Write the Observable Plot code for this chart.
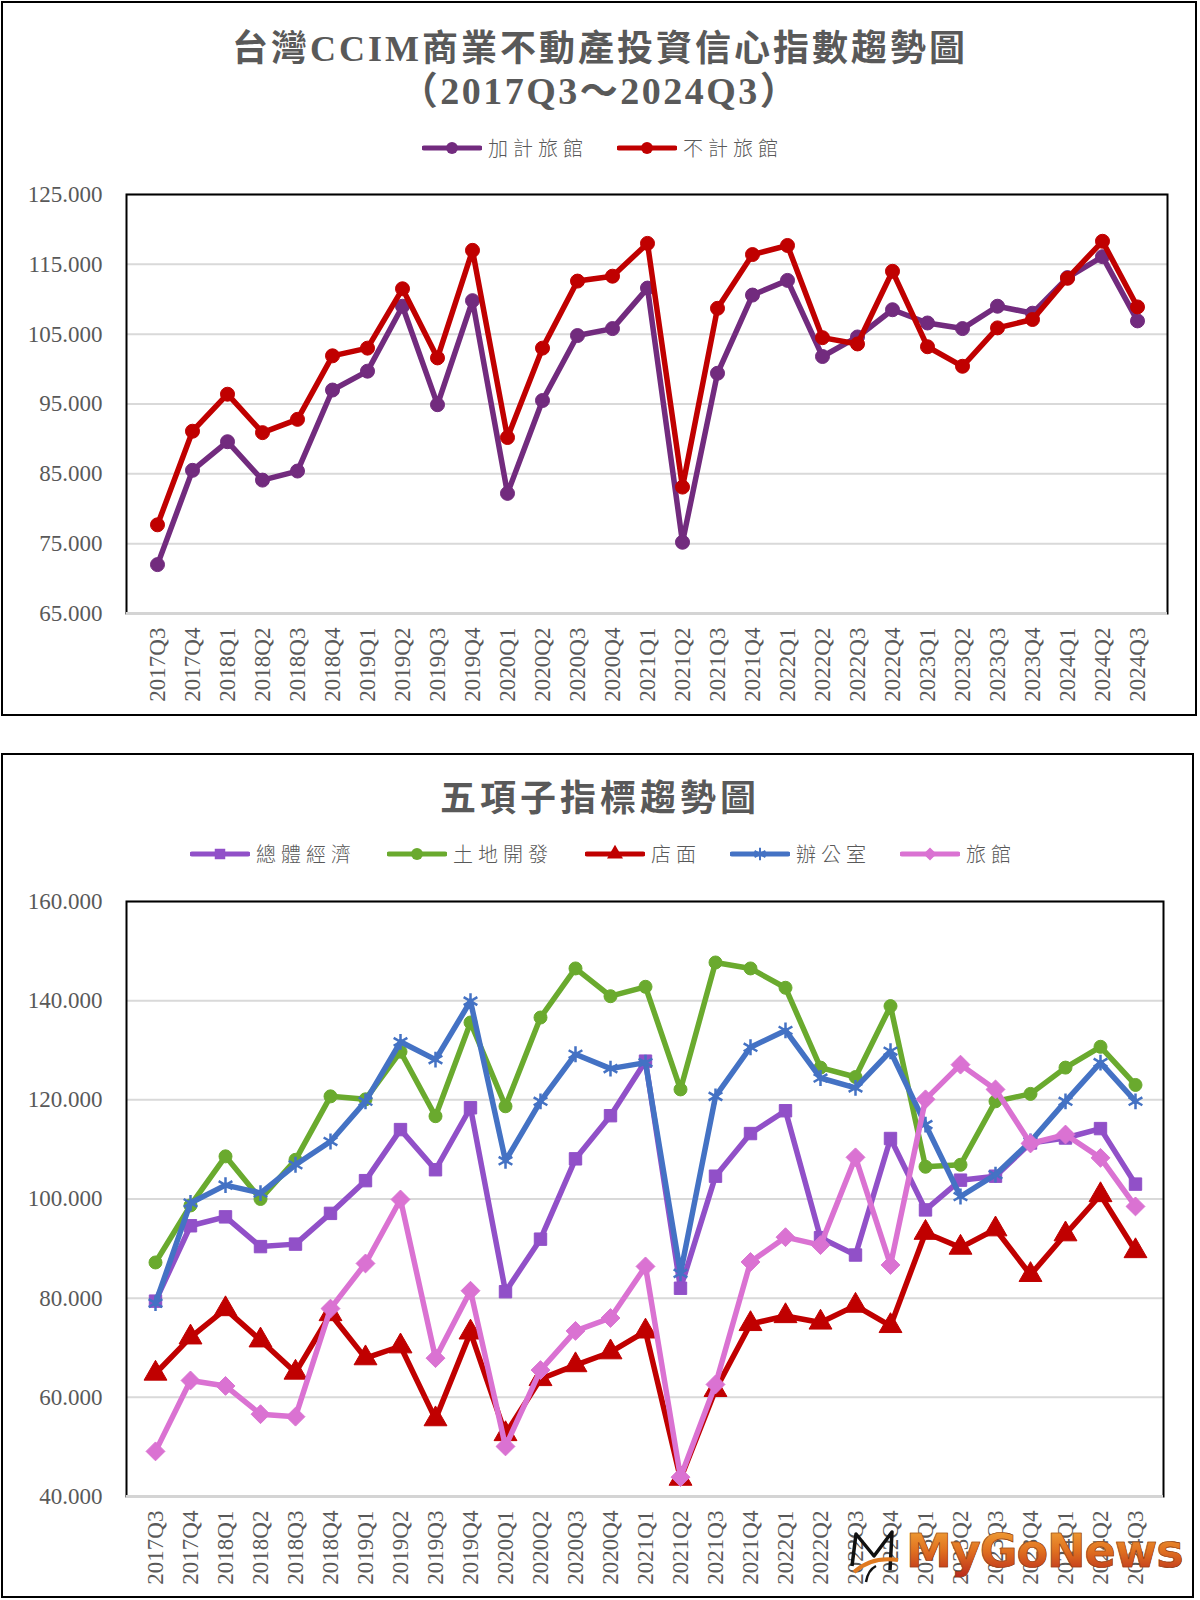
<!DOCTYPE html>
<html>
<head>
<meta charset="utf-8">
<script src="https://cdn.jsdelivr.net/npm/d3@7"></script>
<script src="https://cdn.jsdelivr.net/npm/@observablehq/plot@0.6"></script>
<style>
  html, body { margin: 0; padding: 0; background: #fff; }
  body { position: relative; width: 1200px; height: 1600px; overflow: hidden; }
  .box { position: absolute; border: 2px solid #000; box-sizing: border-box; }
  .title { position: absolute; left: 0; width: 1200px; text-align: center; color: #595959;
           font-family: "Liberation Serif", "Noto Sans CJK TC", serif; font-weight: bold; white-space: nowrap; }
  .leg { position: absolute; display: flex; align-items: center; color: #595959;
         font-family: "Noto Sans CJK TC", sans-serif; font-weight: 300; font-size: 20px; letter-spacing: 5px; white-space: nowrap; }
  .leg svg { margin-right: 6px; }
  .chart { position: absolute; left: 0; }
  .wm { position: absolute; left: 906px; top: 1524px; font-family: "DejaVu Sans", sans-serif; font-weight: bold;
        font-size: 46px; letter-spacing: -1px;
        background: linear-gradient(#f3a93a, #e07020 50%, #b8281c); -webkit-background-clip: text; background-clip: text;
        color: transparent; -webkit-text-stroke: 0.6px #8a3a10; }
  .wmicon { position: absolute; left: 846px; top: 1526px; }
</style>
</head>
<body>
<div class="box" style="left:1px; top:1px; width:1196px; height:715px;"></div>
<div class="box" style="left:1px; top:753px; width:1193px; height:845px;"></div>

<div class="title" style="top:19px; font-size:36px; letter-spacing:3px;">台灣CCIM商業不動產投資信心指數趨勢圖</div>
<div class="title" style="top:60px; font-size:38px; letter-spacing:2.5px;">（2017Q3～2024Q3）</div>
<div id="legTop"></div>
<div id="chartTop" class="chart" style="top:170px;"></div>

<div class="title" style="top:769px; font-size:36px; letter-spacing:4px;">五項子指標趨勢圖</div>
<div id="legBottom"></div>
<div id="chartBottom" class="chart" style="top:880px;"></div>

<svg class="wmicon" width="56" height="58" viewBox="0 0 56 58">
  <path d="M6 40 L10 8 L28 30 L46 6 L44 44" fill="none" stroke="#111" stroke-width="3.5" stroke-linejoin="round"/>
  <path d="M8 46 Q26 30 52 34" fill="none" stroke="#e07a20" stroke-width="4"/>
  <path d="M20 56 Q22 44 30 40" fill="none" stroke="#111" stroke-width="2.5"/>
</svg>
<div class="wm">MyGoNews</div>

<script>
// ---------------- data ----------------
const quarters = ["2017Q3","2017Q4","2018Q1","2018Q2","2018Q3","2018Q4","2019Q1","2019Q2","2019Q3","2019Q4",
  "2020Q1","2020Q2","2020Q3","2020Q4","2021Q1","2021Q2","2021Q3","2021Q4","2022Q1","2022Q2","2022Q3","2022Q4",
  "2023Q1","2023Q2","2023Q3","2023Q4","2024Q1","2024Q2","2024Q3"];

// top chart
const topSeriesNames = ["加計旅館", "不計旅館"];
const withHotel    = [72.0, 85.5, 89.6, 84.1, 85.4, 97.0, 99.7, 109.0, 94.9, 109.8, 82.2, 95.5, 104.8, 105.8, 111.6, 75.2, 99.4, 110.6, 112.7, 101.8, 104.6, 108.5, 106.6, 105.8, 109.0, 108.0, 113.1, 116.1, 106.9];
const withoutHotel = [77.7, 91.1, 96.4, 90.9, 92.8, 101.9, 103.0, 111.5, 101.6, 117.0, 90.2, 103.0, 112.6, 113.3, 118.0, 83.1, 108.7, 116.4, 117.7, 104.5, 103.6, 114.0, 103.2, 100.4, 105.9, 107.1, 113.0, 118.3, 108.9];
const topTicks = [65, 75, 85, 95, 105, 115, 125];

// bottom chart
const bottomSeriesNames = ["總體經濟", "土地開發", "店面", "辦公室", "旅館"];
const macro  = [79.4, 94.6, 96.4, 90.4, 90.9, 97.1, 103.7, 114.0, 105.9, 118.4, 81.3, 91.9, 108.1, 116.8, 127.8, 82.0, 104.6, 113.2, 117.8, 92.2, 88.7, 112.2, 97.8, 103.8, 104.6, 111.3, 112.3, 114.2, 103.0];
const land   = [87.2, 98.7, 108.6, 100.0, 107.9, 120.7, 120.1, 129.7, 116.7, 135.6, 118.7, 136.6, 146.5, 140.9, 142.8, 122.1, 147.7, 146.5, 142.6, 126.5, 124.6, 138.9, 106.5, 106.9, 119.7, 121.2, 126.5, 130.7, 123.0];
const retail = [64.8, 72.1, 77.8, 71.5, 65.0, 76.8, 67.9, 70.3, 55.6, 73.1, 52.6, 63.7, 66.5, 69.1, 73.3, 43.6, 61.5, 74.8, 76.4, 75.1, 78.5, 74.4, 93.2, 90.2, 93.9, 84.7, 92.9, 100.8, 89.5];
const office = [79.0, 99.2, 102.8, 101.2, 106.9, 111.6, 119.7, 131.7, 128.1, 139.9, 107.7, 119.7, 129.2, 126.3, 127.5, 85.0, 120.7, 130.6, 134.0, 124.4, 122.4, 129.8, 115.0, 100.5, 104.9, 111.6, 119.7, 127.5, 119.7];
const hotel  = [49.1, 63.4, 62.3, 56.6, 56.1, 77.9, 87.0, 99.9, 67.9, 81.5, 50.1, 65.5, 73.4, 76.0, 86.4, 43.9, 62.6, 87.3, 92.3, 90.7, 108.4, 86.7, 120.1, 127.1, 122.1, 111.2, 113.0, 108.3, 98.5];
const bottomTicks = [40, 60, 80, 100, 120, 140, 160];

// ---------------- styles ----------------
const topColors = ["#722b7e", "#c00000"];
const bottomColors = ["#9150c8", "#6aaa2e", "#c00000", "#4472c4", "#da72d2"];
const bottomSymbols = ["square", "circle", "triangle", "asterisk", "diamond2"];
const bottomR = [7, 6.5, 8.5, 7.5, 8.5];

const fmt = d3.format(".3f");
const toRows = (arr, name) => quarters.map((q, i) => ({q, v: arr[i], s: name}));

const axisStyle = {fontFamily: "'Liberation Serif', 'Times New Roman', serif", fontSize: "23px", color: "#595959", background: "transparent", overflow: "visible"};

function seriesMarks(rows, color, symbol, r) {
  const stroked = symbol === "asterisk";
  return [
    Plot.line(rows, {x: "q", y: "v", stroke: color, strokeWidth: 5.5, strokeLinejoin: "round", strokeLinecap: "round"}),
    Plot.dot(rows, stroked
      ? {x: "q", y: "v", symbol, r, stroke: color, strokeWidth: 2.5, fill: "none"}
      : {x: "q", y: "v", symbol, r, fill: color, stroke: color, strokeWidth: 1})
  ];
}

// ---------------- top chart ----------------
const topSeries = [withHotel, withoutHotel];
const topChart = Plot.plot({
  width: 1200, height: 543,
  marginTop: 24, marginBottom: 100, marginLeft: 126, marginRight: 33,
  style: axisStyle,
  x: {type: "point", domain: quarters, padding: 0.5, label: null, tickSize: 0, tickPadding: 14, tickRotate: -90},
  y: {domain: [65, 125], ticks: topTicks, tickFormat: fmt, label: null, tickSize: 0, tickPadding: 24},
  marks: [
    Plot.ruleY(topTicks, {stroke: "#d9d9d9", strokeWidth: 2}),
    Plot.frame({stroke: "#000", strokeWidth: 2}),
    Plot.ruleY([65], {stroke: "#d4d4d4", strokeWidth: 3}),
    ...topSeries.flatMap((arr, i) => seriesMarks(toRows(arr, topSeriesNames[i]), topColors[i], "circle", 7))
  ]
});
document.getElementById("chartTop").appendChild(topChart);

// ---------------- bottom chart ----------------
const bottomSeries = [macro, land, retail, office, hotel];
const bottomChart = Plot.plot({
  width: 1200, height: 716,
  marginTop: 21, marginBottom: 100, marginLeft: 126, marginRight: 37,
  style: axisStyle,
  x: {type: "point", domain: quarters, padding: 0.5, label: null, tickSize: 0, tickPadding: 14, tickRotate: -90},
  y: {domain: [40, 160], ticks: bottomTicks, tickFormat: fmt, label: null, tickSize: 0, tickPadding: 24},
  marks: [
    Plot.ruleY(bottomTicks, {stroke: "#d9d9d9", strokeWidth: 2}),
    Plot.frame({stroke: "#000", strokeWidth: 2}),
    Plot.ruleY([40], {stroke: "#d4d4d4", strokeWidth: 3}),
    ...bottomSeries.flatMap((arr, i) => seriesMarks(toRows(arr, bottomSeriesNames[i]), bottomColors[i], bottomSymbols[i], bottomR[i]))
  ]
});
document.getElementById("chartBottom").appendChild(bottomChart);

// ---------------- legends (HTML) ----------------
function swatch(color, symbol) {
  const s = d3.symbol(d3["symbol" + {square: "Square", circle: "Circle", triangle: "Triangle", asterisk: "Asterisk", diamond2: "Diamond2"}[symbol]], 110)();
  const stroked = symbol === "asterisk";
  return `<svg width="60" height="20" viewBox="0 0 60 20"><line x1="2" y1="10" x2="58" y2="10" stroke="${color}" stroke-width="5" stroke-linecap="round"/>` +
    `<path transform="translate(30,10)" d="${s}" ${stroked ? `fill="none" stroke="${color}" stroke-width="2"` : `fill="${color}"`}/></svg>`;
}
function legend(containerId, names, colors, symbols, lefts, top) {
  const c = document.getElementById(containerId);
  names.forEach((n, i) => {
    const d = document.createElement("div");
    d.className = "leg";
    d.style.left = lefts[i] + "px";
    d.style.top = top + "px";
    d.innerHTML = swatch(colors[i], symbols[i]) + `<span>${n}</span>`;
    c.appendChild(d);
  });
}
legend("legTop", topSeriesNames, topColors, ["circle", "circle"], [422, 617], 133);
legend("legBottom", bottomSeriesNames, bottomColors, bottomSymbols, [190, 387, 585, 730, 900], 839);
</script>
</body>
</html>
